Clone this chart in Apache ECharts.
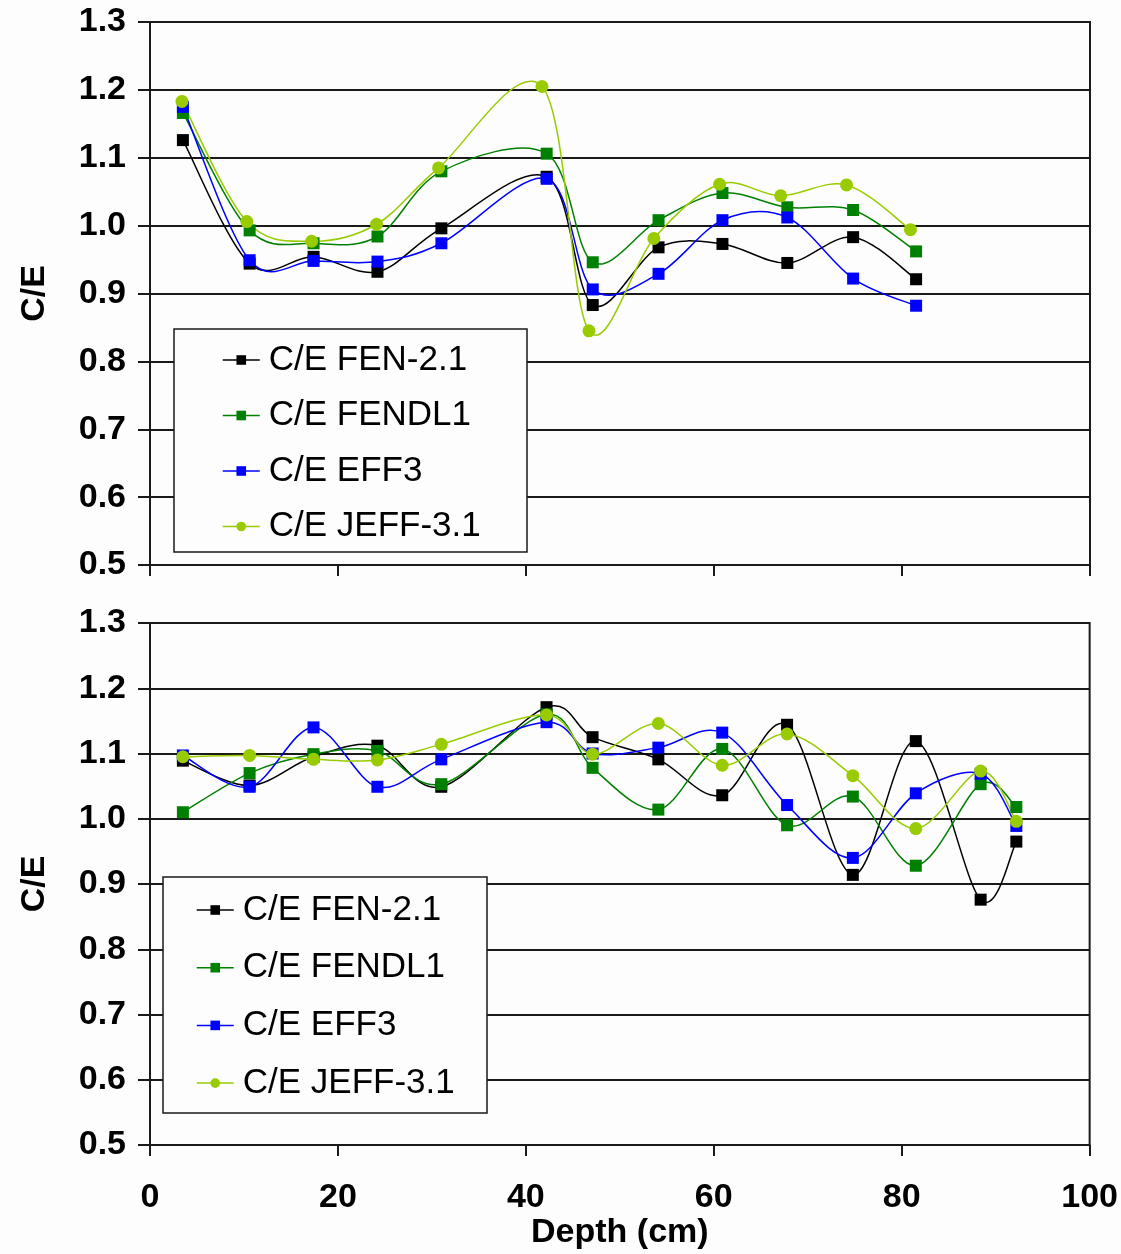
<!DOCTYPE html>
<html>
<head>
<meta charset="utf-8">
<script src="https://cdn.jsdelivr.net/npm/echarts@6/dist/echarts.min.js"></script>
<style>
  html, body { margin: 0; padding: 0; background: #fdfdfd; }
  #chart { width: 1121px; height: 1254px; }
</style>
</head>
<body>
<div id="chart"></div>
<script>
// Depth positions (cm) of the detector slots
const depthTop = [3.5, 10.6, 17.4, 24.2, 31.0, 42.2, 47.1, 54.1, 60.9, 67.8, 74.8, 81.5];
const depthJeffTop = [3.4, 10.3, 17.2, 24.1, 30.7, 41.7, 46.7, 53.6, 60.6, 67.1, 74.1, 80.9];
const depthBottom = [3.5, 10.6, 17.4, 24.2, 31.0, 42.2, 47.1, 54.1, 60.9, 67.8, 74.8, 81.5, 88.4, 92.2];

// Upper panel C/E ratios
const fen21Top  = [1.126, 0.944, 0.954, 0.932, 0.996, 1.072, 0.883, 0.968, 0.973, 0.945, 0.983, 0.921];
const fendl1Top = [1.166, 0.993, 0.974, 0.984, 1.080, 1.106, 0.946, 1.008, 1.048, 1.027, 1.023, 0.962];
const eff3Top   = [1.175, 0.949, 0.948, 0.947, 0.974, 1.069, 0.906, 0.929, 1.008, 1.012, 0.922, 0.882];
const jeffTop   = [1.183, 1.006, 0.977, 1.002, 1.085, 1.205, 0.845, 0.981, 1.061, 1.044, 1.060, 0.994];

// Lower panel C/E ratios
const fen21Bot  = [1.089, 1.051, 1.095, 1.112, 1.049, 1.171, 1.125, 1.091, 1.036, 1.144, 0.914, 1.119, 0.876, 0.965];
const fendl1Bot = [1.010, 1.070, 1.099, 1.104, 1.053, 1.160, 1.078, 1.014, 1.107, 0.990, 1.034, 0.928, 1.053, 1.018];
const eff3Bot   = [1.097, 1.049, 1.140, 1.049, 1.091, 1.148, 1.100, 1.109, 1.132, 1.021, 0.940, 1.039, 1.069, 0.989];
const jeffBot   = [1.095, 1.097, 1.091, 1.090, 1.114, 1.159, 1.099, 1.146, 1.082, 1.130, 1.066, 0.985, 1.073, 0.996];

const seriesNames = ['C/E FEN-2.1', 'C/E FENDL1', 'C/E EFF3', 'C/E JEFF-3.1'];
const seriesColors = ['#000000', '#008000', '#0000ff', '#99cc00'];
const seriesSymbols = ['rect', 'rect', 'rect', 'circle'];

const FONT = '"Liberation Sans", Arial, sans-serif';

function pairs(xs, ys) { return xs.map((x, i) => [x, ys[i]]); }

// Smoothed connecting curve: cubic Bezier segments through the data points
// (Catmull-Rom tangents computed in pixel space from the axis scales).
function curveSeries(idx, grid, xs, ys) {
  const n = xs.length;
  return {
    name: seriesNames[idx] + ' curve',
    type: 'custom',
    xAxisIndex: grid,
    yAxisIndex: grid,
    data: pairs(xs, ys),
    encode: { x: 0, y: 1 },
    silent: true,
    animation: false,
    z: 2,
    renderItem: function (params, api) {
      const i = params.dataIndex;
      if (i >= n - 1) return { type: 'group', children: [] };
      const P = j => {
        const k = Math.max(0, Math.min(n - 1, j));
        return api.coord([xs[k], ys[k]]);
      };
      const p0 = P(i - 1), p1 = P(i), p2 = P(i + 1), p3 = P(i + 2);
      return {
        type: 'bezierCurve',
        shape: {
          x1: p1[0], y1: p1[1], x2: p2[0], y2: p2[1],
          cpx1: p1[0] + (p2[0] - p0[0]) / 6, cpy1: p1[1] + (p2[1] - p0[1]) / 6,
          cpx2: p2[0] - (p3[0] - p1[0]) / 6, cpy2: p2[1] - (p3[1] - p1[1]) / 6
        },
        style: { stroke: seriesColors[idx], lineWidth: 1.5, fill: null }
      };
    }
  };
}

// Markers at the measured points
function markerSeries(idx, grid, xs, ys) {
  return {
    name: seriesNames[idx],
    type: 'line',
    xAxisIndex: grid,
    yAxisIndex: grid,
    data: pairs(xs, ys),
    symbol: seriesSymbols[idx],
    symbolSize: idx === 3 ? 13 : 12,
    showSymbol: true,
    color: seriesColors[idx],
    lineStyle: { width: 1.5, color: seriesColors[idx], opacity: 0 },
    itemStyle: { color: seriesColors[idx] },
    z: 3,
    animation: false
  };
}

function yAxisCfg(grid) {
  return {
    type: 'value', gridIndex: grid,
    min: 0.5, max: 1.3, interval: 0.1,
    name: 'C/E', nameLocation: 'middle', nameGap: 98, nameRotate: 90,
    nameTextStyle: { fontFamily: FONT, fontWeight: 'bold', fontSize: 34, color: '#000' },
    axisLine: { show: true, lineStyle: { color: '#1a1a1a', width: 2 } },
    axisTick: { show: true, inside: false, length: 12, lineStyle: { color: '#1a1a1a', width: 2 } },
    axisLabel: {
      margin: 24, color: '#000', fontFamily: FONT, fontWeight: 'bold', fontSize: 34,
      formatter: v => v.toFixed(1)
    },
    splitLine: { show: true, lineStyle: { color: '#1a1a1a', width: 2 } }
  };
}

function xAxisCfg(grid, showLabels) {
  return {
    type: 'value', gridIndex: grid,
    min: 0, max: 100, interval: 20,
    name: showLabels ? 'Depth (cm)' : '',
    nameLocation: 'middle', nameGap: 70,
    nameTextStyle: { fontFamily: FONT, fontWeight: 'bold', fontSize: 34, color: '#000' },
    axisLine: { show: true, onZero: false, lineStyle: { color: '#1a1a1a', width: 2 } },
    axisTick: { show: true, inside: false, length: 11, lineStyle: { color: '#1a1a1a', width: 2 } },
    axisLabel: {
      show: showLabels, margin: 36, color: '#000', fontFamily: FONT, fontWeight: 'bold', fontSize: 34
    },
    splitLine: { show: false }
  };
}

function legendCfg(left, top, gap) {
  return {
    orient: 'vertical', left: left, top: top,
    itemWidth: 37, itemHeight: 12, itemGap: gap,
    padding: 0, z: 10,
    data: seriesNames,
    lineStyle: { opacity: 1, width: 1.5 },
    textStyle: { fontFamily: FONT, fontSize: 35, color: '#000', lineHeight: 36, padding: [0, 0, 0, 4] },
    selectedMode: false
  };
}

const chart = echarts.init(document.getElementById('chart'), null, { renderer: 'canvas' });

const series = [];
[[depthTop, fen21Top], [depthTop, fendl1Top], [depthTop, eff3Top], [depthJeffTop, jeffTop]]
  .forEach(([xs, ys], k) => { series.push(curveSeries(k, 0, xs, ys), markerSeries(k, 0, xs, ys)); });
[[depthBottom, fen21Bot], [depthBottom, fendl1Bot], [depthBottom, eff3Bot], [depthBottom, jeffBot]]
  .forEach(([xs, ys], k) => { series.push(curveSeries(k, 1, xs, ys), markerSeries(k, 1, xs, ys)); });

chart.setOption({
  backgroundColor: '#fdfdfd',
  animation: false,
  grid: [
    { left: 150, right: 31, top: 22, height: 543, show: true, borderColor: '#1a1a1a', borderWidth: 2, backgroundColor: 'transparent' },
    { left: 150, right: 31, top: 623, height: 522, show: true, borderColor: '#1a1a1a', borderWidth: 2, backgroundColor: 'transparent' }
  ],
  xAxis: [xAxisCfg(0, false), xAxisCfg(1, true)],
  yAxis: [yAxisCfg(0), yAxisCfg(1)],
  legend: [legendCfg(222, 342, 19.5), legendCfg(196, 892, 21.7)],
  graphic: [
    { type: 'rect', z: 9, shape: { x: 174, y: 329, width: 353, height: 223 },
      style: { fill: '#fdfdfd', stroke: '#1a1a1a', lineWidth: 1.5 } },
    { type: 'rect', z: 9, shape: { x: 163, y: 877, width: 324, height: 236 },
      style: { fill: '#fdfdfd', stroke: '#1a1a1a', lineWidth: 1.5 } }
  ],
  series: series
});
</script>
</body>
</html>
